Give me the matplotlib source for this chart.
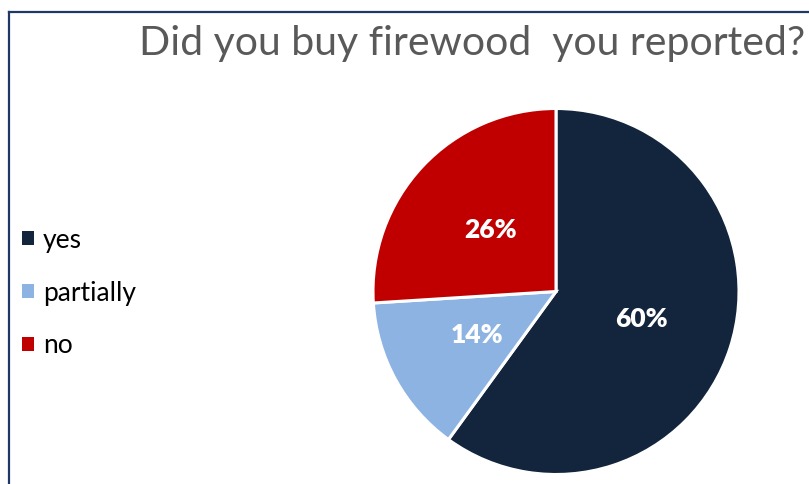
import matplotlib.pyplot as plt
from matplotlib.lines import Line2D
from matplotlib.patches import Patch

# data
labels = ['yes', 'partially', 'no']
values = [60, 14, 26]
colors = ['#13243d', '#8db3e2', '#c00000']
title = 'Did you buy firewood  you reported?'

W, H = 809, 484
fig = plt.figure(figsize=(W / 100, H / 100), dpi=100)

# frame (top and left edge of the slide box)
fig.add_artist(Line2D([9 / W, 9 / W], [-0.1, 1 - 12 / H], color='#1f3864', lw=1.6))
fig.add_artist(Line2D([9 / W, 1.1], [1 - 12 / H, 1 - 12 / H], color='#1f3864', lw=1.6))

# pie
cx, cy, r = 556, 291.5, 183
ax = fig.add_axes([(cx - r) / W, (H - cy - r) / H, 2 * r / W, 2 * r / H])
wedges, texts, autotexts = ax.pie(values, colors=colors, startangle=90, counterclock=False,
                                  autopct='%d%%', pctdistance=0.49,
                                  wedgeprops=dict(edgecolor='white', linewidth=2.2))
for t in autotexts:
    t.set_color('white')
    t.set_fontsize(19)
    t.set_fontweight('heavy')
    t.set_family('Lato')
ax.set_xlim(-1, 1)
ax.set_ylim(-1, 1)
ax.set_aspect('equal')
ax.axis('off')

# title
fig.text(805 / W, 1 - 44 / H, title, ha='right', va='center', fontsize=29.5,
         color='#595959', family='Lato')

# legend
handles = [Patch(facecolor=c, edgecolor='none') for c in colors]
fig.legend(handles, labels, loc='center left', bbox_to_anchor=(22 / W, 1 - 293 / H),
           frameon=False, borderpad=0, borderaxespad=0, handlelength=0.45, handleheight=0.45,
           handletextpad=0.35, labelspacing=1.05, prop={'family': 'Lato', 'size': 19})

fig.savefig('out.png', dpi=100)
